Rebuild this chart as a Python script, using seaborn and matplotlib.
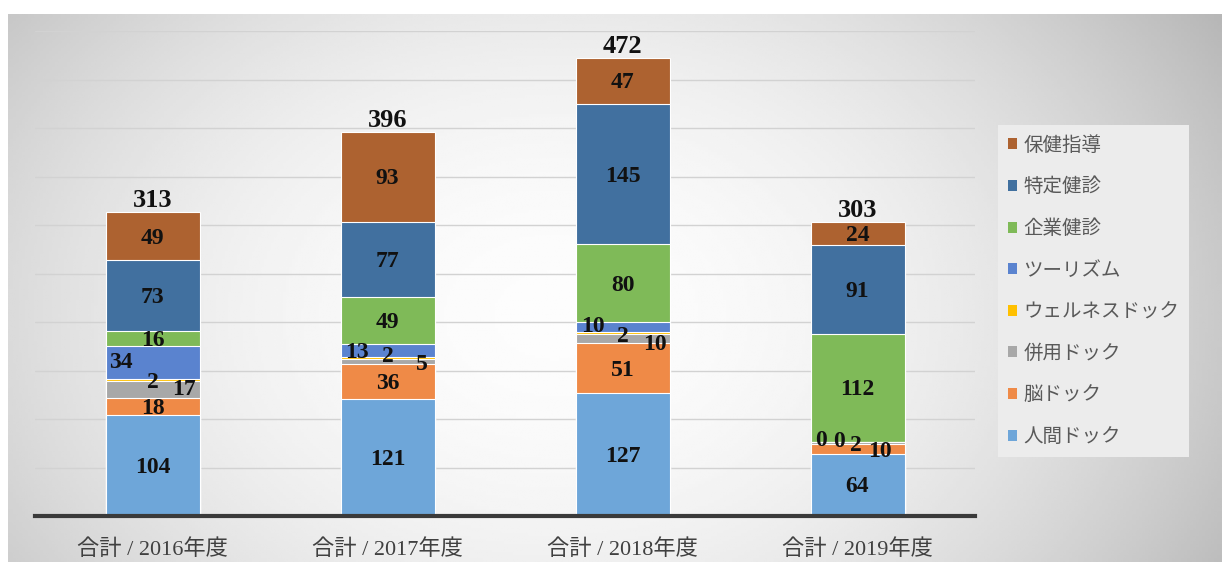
import numpy as np
import pandas as pd
import matplotlib
matplotlib.use("Agg")
import matplotlib.pyplot as plt
import seaborn as sns
from matplotlib.patches import Patch

# data (stack order bottom -> top)
years = ["合計 / 2016年度", "合計 / 2017年度", "合計 / 2018年度", "合計 / 2019年度"]
series = ["人間ドック", "脳ドック", "併用ドック", "ウェルネスドック",
          "ツーリズム", "企業健診", "特定健診", "保健指導"]
ningen = [104, 121, 127, 64]
nou = [18, 36, 51, 10]
heiyou = [17, 5, 10, 2]
wellness = [2, 2, 2, 0]
tourism = [34, 13, 10, 0]
kigyou = [16, 49, 80, 112]
tokutei = [73, 77, 145, 91]
hoken = [49, 93, 47, 24]
colors = ["#6ea6d9", "#ef8a47", "#a8a8a8", "#ffc000",
          "#5a83cf", "#7fba58", "#41709f", "#ad6230"]

vals = np.array([ningen, nou, heiyou, wellness, tourism, kigyou, tokutei, hoken])
cum = vals.cumsum(axis=0)
totals = cum[-1]

sns.set_theme(style="white")
num_font = ["Liberation Serif", "Noto Sans CJK JP"]
plt.rcParams["font.family"] = ["Noto Sans CJK JP", "DejaVu Sans"]

fig = plt.figure(figsize=(12.22, 5.62), dpi=100)
fig.patch.set_facecolor("white")

# gradient panel behind the chart
bg = fig.add_axes([8 / 1222, 0, 1 - 8 / 1222, 1 - 14 / 562], zorder=-5)
gx, gy = np.meshgrid(np.linspace(0, 1, 400), np.linspace(0, 1, 200))
r = np.sqrt(((gx - 0.45) / 0.55) ** 2 + ((gy - 0.55) / 0.9) ** 2)
shade = np.clip(0.99 - 0.2 * r ** 2, 0, 1)
bg.imshow(shade, cmap="gray", vmin=0, vmax=1, aspect="auto", extent=[0, 1, 0, 1])
bg.axis("off")

ax = fig.add_axes([35 / 1222, 1 - 516 / 562, 940 / 1222, 485 / 562])
ax.set_facecolor("none")

df = pd.DataFrame({"year": years})
for k in range(len(series) - 1, -1, -1):
    df["cum"] = cum[k]
    sns.barplot(data=df, x="year", y="cum", color=colors[k], width=0.4,
                edgecolor="white", linewidth=0.8, saturation=1, ax=ax, zorder=3)

ax.set_ylim(0, 500)
ax.set_xlim(-0.5, 3.5)
ax.set_yticks(np.arange(50, 501, 50))
ax.yaxis.grid(True, color="#d2d2d2", linewidth=1)
ax.set_axisbelow(True)
for s in ["top", "right", "left"]:
    ax.spines[s].set_visible(False)
ax.spines["bottom"].set_color("#3a3a3a")
ax.spines["bottom"].set_linewidth(3)
ax.spines["bottom"].set_zorder(5)
ax.set_yticklabels([])
ax.set_xlabel("")
ax.set_ylabel("")
ax.tick_params(axis="x", length=0, pad=17)
for t in ax.get_xticklabels():
    t.set_fontfamily(num_font)
    t.set_fontsize(16)
    t.set_color("#404040")

# label offsets in pixels for thin segments
offsets = {
    (0, 2): (31, 0), (0, 4): (-32, 0), (0, 3): (0, -2),
    (1, 2): (34, -3), (1, 4): (-31, -2), (1, 3): (0, 1),
    (2, 2): (32, -6), (2, 3): (0, -4), (2, 4): (-30, 0),
    (3, 1): (22, -2), (3, 2): (-2, -2), (3, 3): (-18, 1), (3, 4): (-36, 2),
}
for i in range(len(years)):
    for k in range(len(series)):
        mid = cum[k][i] - vals[k][i] / 2
        dx, dy = offsets.get((i, k), (0, -2))
        ax.annotate(str(vals[k][i]), xy=(i, mid), xytext=(dx, dy),
                    textcoords="offset pixels", ha="center", va="center",
                    fontsize=17, fontweight="bold", family=num_font,
                    color="#111111", zorder=6)
    ax.annotate(str(totals[i]), xy=(i, totals[i]), xytext=(0, 0),
                textcoords="offset pixels", ha="center", va="bottom",
                fontsize=19, fontweight="bold", family=num_font,
                color="#111111", zorder=6)

# legend
handles = [Patch(facecolor=colors[k], edgecolor="none") for k in range(len(series) - 1, -1, -1)]
labels = series[::-1]
leg = fig.legend(handles, labels, loc="upper left",
                 bbox_to_anchor=(998 / 1222, 1 - 125 / 562),
                 frameon=True, fontsize=14, labelspacing=1.06,
                 handlelength=0.5, handleheight=0.5, handletextpad=0.3,
                 borderpad=0.5, borderaxespad=0, labelcolor="#595959")
leg.get_frame().set_facecolor("#ececec")
leg.get_frame().set_edgecolor("none")
leg.get_frame().set_boxstyle("square", pad=0)
leg.get_frame().set_alpha(1)

fig.savefig("out.png", dpi=100)
